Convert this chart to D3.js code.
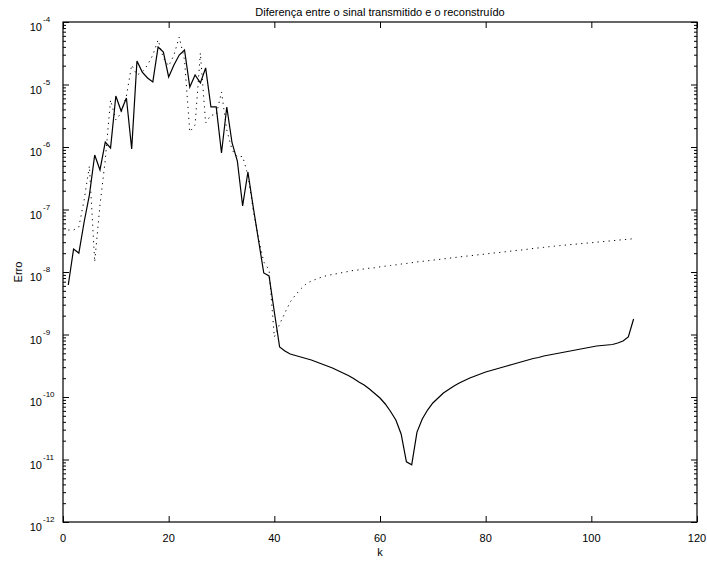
<!DOCTYPE html>
<html><head><meta charset="utf-8">
<script src="https://cdn.jsdelivr.net/npm/d3@7"></script>
<style>
html,body{margin:0;padding:0;background:#fff;}
text{font-family:"Liberation Sans",Arial,Helvetica,sans-serif;fill:#000;}
</style></head>
<body><svg id="chart" width="707" height="563"></svg>
<script>
const title = "Diferença entre o sinal transmitido e o reconstruído";
const xLabel = "k";
const yLabel = "Erro";
const xTicks = [0, 20, 40, 60, 80, 100, 120];
const yExponents = [-4, -5, -6, -7, -8, -9, -10, -11, -12];
const kFirst = 1;

// solid series (k = 1..108)
const erroSolid = [
 6.2e-9, 2.33e-8, 2.01e-8, 6.31e-8, 1.71e-7, 7.45e-7, 4.29e-7, 1.20e-6, 9.64e-7, 6.55e-6,
 3.77e-6, 6.08e-6, 9.29e-7, 2.38e-5, 1.58e-5, 1.27e-5, 1.10e-5, 3.98e-5, 3.31e-5, 1.32e-5,
 2.05e-5, 2.96e-5, 3.56e-5, 9.12e-6, 1.42e-5, 1.06e-5, 1.84e-5, 4.37e-6, 4.37e-6, 8.02e-7,
 4.37e-6, 1.16e-6, 5.97e-7, 1.14e-7, 3.98e-7, 1.10e-7, 3.25e-8, 9.64e-9, 8.63e-9, 2.29e-9,
 6.31e-10, 5.45e-10, 4.88e-10, 4.61e-10, 4.37e-10, 4.13e-10, 3.91e-10, 3.63e-10, 3.37e-10, 3.13e-10,
 2.91e-10, 2.65e-10, 2.42e-10, 2.21e-10, 1.98e-10, 1.74e-10, 1.56e-10, 1.34e-10, 1.14e-10, 9.64e-11,
 7.73e-11, 5.86e-11, 4.29e-11, 2.56e-11, 9.2e-12, 8.2e-12, 2.75e-11, 4.45e-11, 6.19e-11, 8.02e-11,
 9.64e-11, 1.16e-10, 1.32e-10, 1.50e-10, 1.67e-10, 1.84e-10, 2.01e-10, 2.17e-10, 2.33e-10, 2.51e-10,
 2.65e-10, 2.81e-10, 2.96e-10, 3.13e-10, 3.31e-10, 3.50e-10, 3.70e-10, 3.91e-10, 4.13e-10, 4.29e-10,
 4.53e-10, 4.70e-10, 4.88e-10, 5.06e-10, 5.25e-10, 5.45e-10, 5.65e-10, 5.86e-10, 6.08e-10, 6.31e-10,
 6.55e-10, 6.67e-10, 6.79e-10, 6.92e-10, 7.31e-10, 7.87e-10, 9.12e-10, 1.77e-9
];

// dotted series (k = 1..108)
const erroDotted = [
 4.70e-8, 4.70e-8, 5.25e-8, 1.42e-7, 4.97e-7, 1.45e-8, 1.18e-7, 6.19e-7, 5.65e-6, 2.70e-6,
 3.50e-6, 6.55e-6, 2.05e-5, 1.42e-5, 1.58e-5, 2.05e-5, 2.96e-5, 5.15e-5, 2.65e-5, 1.98e-5,
 2.96e-5, 5.75e-5, 2.47e-5, 1.74e-6, 2.25e-6, 3.19e-5, 2.42e-6, 3.25e-6, 3.25e-6, 7.59e-6,
 1.87e-6, 8.95e-7, 6.92e-7, 7.08e-7, 3.56e-7, 9.82e-8, 3.50e-8, 1.45e-8, 1.08e-8, 9.12e-10,
 1.47e-9, 2.21e-9, 3.31e-9, 4.29e-9, 5.35e-9, 6.43e-9, 7.18e-9, 7.73e-9, 8.32e-9, 8.79e-9,
 9.12e-9, 9.46e-9, 9.82e-9, 1.02e-8, 1.06e-8, 1.08e-8, 1.12e-8, 1.15e-8, 1.17e-8, 1.21e-8,
 1.24e-8, 1.27e-8, 1.30e-8, 1.34e-8, 1.37e-8, 1.41e-8, 1.45e-8, 1.48e-8, 1.51e-8, 1.55e-8,
 1.58e-8, 1.62e-8, 1.66e-8, 1.70e-8, 1.74e-8, 1.78e-8, 1.82e-8, 1.86e-8, 1.90e-8, 1.94e-8,
 1.99e-8, 2.03e-8, 2.07e-8, 2.12e-8, 2.17e-8, 2.22e-8, 2.26e-8, 2.32e-8, 2.38e-8, 2.43e-8,
 2.48e-8, 2.54e-8, 2.59e-8, 2.64e-8, 2.69e-8, 2.74e-8, 2.79e-8, 2.84e-8, 2.89e-8, 2.94e-8,
 3.00e-8, 3.05e-8, 3.11e-8, 3.17e-8, 3.23e-8, 3.29e-8, 3.35e-8, 3.41e-8
];

const svg = d3.select("#chart");
const L = 63, R = 697, T = 22, B = 522;
const x = d3.scaleLinear().domain([0, 120]).range([L, R]);
const y = d3.scaleLog().domain([1e-12, 1e-4]).range([B, T]);

const majors = yExponents.map(e => Math.pow(10, e));
const minors = [];
for (let e = -12; e < -4; e++) for (let m = 2; m <= 9; m++) minors.push(m * Math.pow(10, e));

// axes (ticks pointing inward)
function styleAxis(g){ g.selectAll("path").remove(); g.selectAll("line").attr("stroke","#000").attr("stroke-width",1); g.selectAll("text").remove(); }
svg.append("g").attr("transform",`translate(0,${B})`).call(d3.axisBottom(x).tickValues(xTicks).tickSize(-6)).call(styleAxis);
svg.append("g").attr("transform",`translate(0,${T})`).call(d3.axisTop(x).tickValues(xTicks).tickSize(-6)).call(styleAxis);
svg.append("g").attr("transform",`translate(${L},0)`).call(d3.axisLeft(y).tickValues(majors).tickSize(-6)).call(styleAxis);
svg.append("g").attr("transform",`translate(${L},0)`).call(d3.axisLeft(y).tickValues(minors).tickSize(-3)).call(styleAxis);
svg.append("g").attr("transform",`translate(${R},0)`).call(d3.axisRight(y).tickValues(majors).tickSize(-6)).call(styleAxis);
svg.append("g").attr("transform",`translate(${R},0)`).call(d3.axisRight(y).tickValues(minors).tickSize(-3)).call(styleAxis);

svg.append("rect").attr("x",L).attr("y",T).attr("width",R-L).attr("height",B-T)
  .attr("fill","none").attr("stroke","#000").attr("stroke-width",1.2);

// x tick labels
svg.append("g").selectAll("text").data(xTicks).join("text")
  .attr("x", d => x(d)).attr("y", B + 20).attr("text-anchor","middle")
  .attr("font-size", 11).text(d => d);

// y tick labels 10^e
const yl = svg.append("g").selectAll("g").data(yExponents).join("g");
yl.append("text").attr("x", 42).attr("y", d => y(Math.pow(10,d)) + 9)
  .attr("text-anchor","end").attr("font-size",11).text("10");
yl.append("text").attr("x", 43).attr("y", d => y(Math.pow(10,d)) + 0)
  .attr("text-anchor","start").attr("font-size",8).text(d => "-" + Math.abs(d));

// lines
const line = d3.line().x((d,i) => x(kFirst + i)).y(d => y(d));
svg.append("path").datum(erroDotted).attr("d", line).attr("fill","none")
  .attr("stroke","#000").attr("stroke-width",1).attr("stroke-dasharray","1.2,4.3");
svg.append("path").datum(erroSolid).attr("d", line).attr("fill","none")
  .attr("stroke","#000").attr("stroke-width",1.2);

// titles
svg.append("text").attr("x",(L+R)/2).attr("y",16).attr("text-anchor","middle").attr("font-size",11).text(title);
svg.append("text").attr("x",(L+R)/2).attr("y",556).attr("text-anchor","middle").attr("font-size",11).text(xLabel);
svg.append("text").attr("transform",`translate(22,${(T+B)/2}) rotate(-90)`).attr("text-anchor","middle").attr("font-size",11).text(yLabel);
</script></body></html>
